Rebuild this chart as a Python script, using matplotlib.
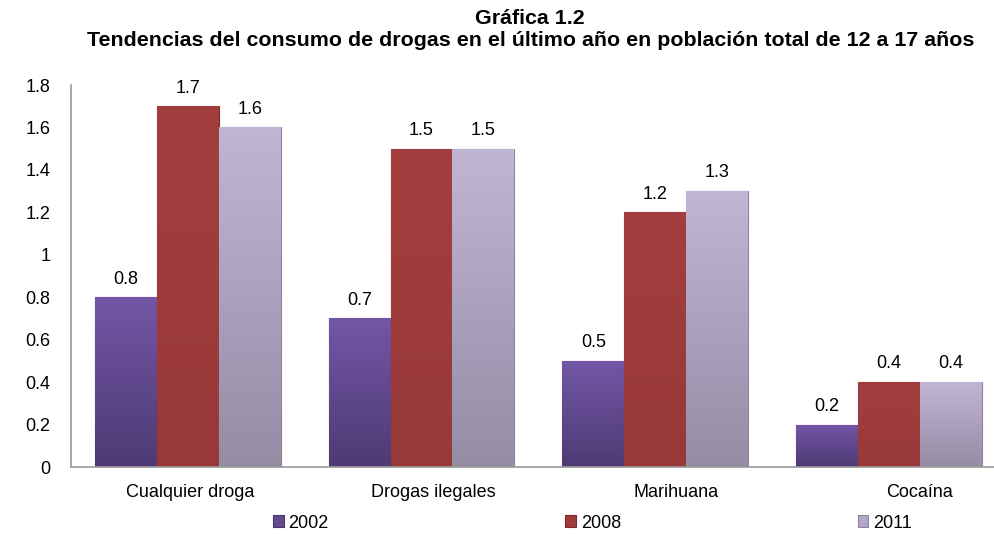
import numpy as np
import matplotlib.pyplot as plt
from matplotlib.colors import LinearSegmentedColormap

plt.rcParams['font.family'] = ['Liberation Sans', 'DejaVu Sans']

# Datos
categorias = ['Cualquier droga', 'Drogas ilegales', 'Marihuana', 'Cocaína']
anios = ['2002', '2008', '2011']
v2002 = [0.8, 0.7, 0.5, 0.2]
v2008 = [1.7, 1.5, 1.2, 0.4]
v2011 = [1.6, 1.5, 1.3, 0.4]

series = [v2002, v2008, v2011]
colores = ['#664a8e', '#9e3a3a', '#b3a6c6']
# degradado (arriba, abajo) de cada serie
degradados = [('#7356a6', '#4e3a74'), ('#a33e3e', '#983838'), ('#c1b5d6', '#968ca4')]
bordes = ['#4a3570', '#7a2a2a', '#8f849e']

fig = plt.figure(figsize=(9.94, 5.34), dpi=100)
ax = fig.add_axes([71 / 994, 1 - 467 / 534, (994 - 71) / 994, (467 - 85) / 534])

x = np.arange(len(categorias))
ancho = 0.265
grad = np.linspace(1, 0, 256).reshape(-1, 1)
for i, (vals, c, b) in enumerate(zip(series, colores, bordes)):
    pos = x + (i - 1) * ancho
    barras = ax.bar(pos, vals, ancho, color=c, edgecolor=b, linewidth=0.8,
                    label=anios[i])
    cmap = LinearSegmentedColormap.from_list('g%d' % i, [degradados[i][1], degradados[i][0]])
    for rect in barras:
        x0, y0 = rect.get_x(), rect.get_y()
        im = ax.imshow(grad, cmap=cmap, extent=[x0, x0 + rect.get_width(), y0, y0 + rect.get_height()],
                       aspect='auto', zorder=rect.get_zorder(), interpolation='bilinear')
        im.set_clip_path(rect)
    for xp, v in zip(pos, vals):
        ax.annotate(f'{v:g}', (xp, v), xytext=(0, 7), textcoords='offset points',
                    ha='center', va='bottom', fontsize=13)

ax.set_xlim(-0.5, 3.45)
ax.set_ylim(0, 1.8)
ax.set_yticks(np.arange(0, 1.81, 0.2))
ax.set_yticklabels(['0', '0.2', '0.4', '0.6', '0.8', '1', '1.2', '1.4', '1.6', '1.8'])
# en el original las etiquetas quedan algo más espaciadas que los grupos
ax.set_xticks(x * 1.04 + 0.01)
ax.set_xticklabels(categorias)
ax.tick_params(axis='both', length=0, labelsize=13)
ax.tick_params(axis='y', pad=15)
ax.tick_params(axis='x', pad=12)
for s in ['top', 'right']:
    ax.spines[s].set_visible(False)
ax.spines['left'].set_color('#999999')
ax.spines['bottom'].set_color('#999999')
ax.spines['left'].set_linewidth(1.2)
ax.spines['bottom'].set_linewidth(1.2)

fig.text(0.533, 1 - 18 / 534, 'Gráfica 1.2', ha='center', va='center',
         fontsize=15.4, fontweight='bold')
fig.text(0.534, 1 - 41 / 534,
         'Tendencias del consumo de drogas en el último año en población total de 12 a 17 años',
         ha='center', va='center', fontsize=15.4, fontweight='bold')

fig.legend(loc='center', bbox_to_anchor=(0.596, 1 - 523 / 534), ncol=3,
           frameon=False, fontsize=13, handlelength=0.6, handleheight=0.6,
           handletextpad=0.25, columnspacing=13.1)

fig.savefig('out.png', dpi=100)
